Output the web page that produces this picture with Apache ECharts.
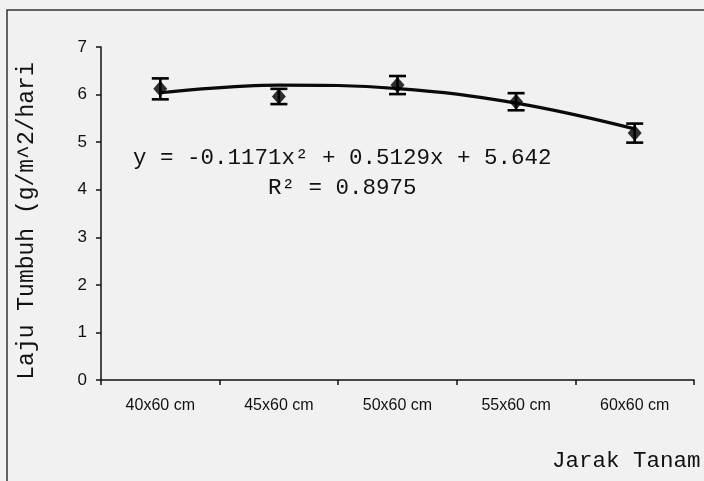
<!DOCTYPE html>
<html>
<head>
<meta charset="utf-8">
<script src="https://cdn.jsdelivr.net/npm/echarts@6/dist/echarts.min.js"></script>
<style>
  html, body { margin: 0; padding: 0; background: #f1f1f1; }
  #chart { width: 704px; height: 481px; }
</style>
</head>
<body>
<div id="chart"></div>
<script>
// Plant spacing treatments and measured growth rate (mean ± error)
const categories = ['40x60 cm', '45x60 cm', '50x60 cm', '55x60 cm', '60x60 cm'];
const rateMeans = [6.12, 5.96, 6.20, 5.85, 5.19];
const rateErrors = [0.22, 0.16, 0.19, 0.18, 0.20];
// Quadratic trend: y = a x^2 + b x + c, x = treatment index (1..5)
const trendCoefficients = [-0.1171, 0.5129, 5.642];
const rSquared = '0.8975';
const yTicks = [0, 1, 2, 3, 4, 5, 6, 7];

const trendValues = categories.map((_, i) => {
  const x = i + 1;
  const [a, b, c] = trendCoefficients;
  return +(a * x * x + b * x + c).toFixed(4);
});

const mono = '"Liberation Mono", "Courier New", monospace';
const sans = '"Liberation Sans", Arial, sans-serif';
const ink = '#111';

const chart = echarts.init(document.getElementById('chart'), null, { renderer: 'canvas' });

chart.setOption({
  backgroundColor: '#f1f1f1',
  animation: false,
  grid: { left: 101, right: 10, top: 47, bottom: 101 },
  xAxis: {
    type: 'category',
    data: categories,
    boundaryGap: true,
    axisLine: { lineStyle: { color: ink, width: 1.5 } },
    axisTick: { show: true, length: 5, lineStyle: { color: ink, width: 1.5 } },
    axisLabel: { color: ink, fontFamily: sans, fontSize: 16, margin: 18 }
  },
  yAxis: {
    type: 'value',
    min: yTicks[0],
    max: yTicks[yTicks.length - 1],
    interval: 1,
    splitLine: { show: false },
    axisLine: { show: true, lineStyle: { color: ink, width: 1.5 } },
    axisTick: { show: true, length: 5, lineStyle: { color: ink, width: 1.5 } },
    axisLabel: { color: ink, fontFamily: sans, fontSize: 17, margin: 14 }
  },
  series: [
    {
      name: 'trend',
      type: 'line',
      data: trendValues,
      smooth: 0.4,
      symbol: 'none',
      lineStyle: { color: '#0a0a0a', width: 3.2 },
      z: 3
    },
    {
      name: 'error',
      type: 'custom',
      data: categories.map((_, i) => [i, rateMeans[i] - rateErrors[i], rateMeans[i] + rateErrors[i]]),
      renderItem: function (params, api) {
        const lo = api.coord([api.value(0), api.value(1)]);
        const hi = api.coord([api.value(0), api.value(2)]);
        const half = 8.5;
        const style = { stroke: '#000', lineWidth: 2.6 };
        return {
          type: 'group',
          children: [
            { type: 'line', shape: { x1: lo[0], y1: lo[1], x2: hi[0], y2: hi[1] }, style: style },
            { type: 'line', shape: { x1: lo[0] - half, y1: lo[1], x2: lo[0] + half, y2: lo[1] }, style: style },
            { type: 'line', shape: { x1: hi[0] - half, y1: hi[1], x2: hi[0] + half, y2: hi[1] }, style: style }
          ]
        };
      },
      z: 4
    },
    {
      name: 'mean',
      type: 'scatter',
      data: rateMeans,
      symbol: 'diamond',
      symbolSize: [14, 16],
      itemStyle: { color: '#000' },
      z: 5
    }
  ],
  graphic: [
    {
      type: 'rect',
      shape: { x: 7, y: 10, width: 720, height: 500 },
      style: { fill: 'none', stroke: '#333', lineWidth: 1.5 },
      silent: true
    },
    {
      type: 'text',
      x: 27,
      y: 221,
      rotation: Math.PI / 2,
      style: {
        text: 'Laju Tumbuh (g/m^2/hari',
        font: '23px ' + mono,
        fill: ink,
        align: 'center',
        verticalAlign: 'middle'
      }
    },
    {
      type: 'text',
      left: 133,
      top: 147,
      style: {
        text: 'y = -0.1171x² + 0.5129x + 5.642',
        font: '22.5px ' + mono,
        fill: ink
      }
    },
    {
      type: 'text',
      left: 268,
      top: 177,
      style: {
        text: 'R² = ' + rSquared,
        font: '22.5px ' + mono,
        fill: ink
      }
    },
    {
      type: 'text',
      left: 552,
      top: 450,
      style: {
        text: 'Jarak Tanam',
        font: '22.5px ' + mono,
        fill: ink
      }
    }
  ]
});
</script>
</body>
</html>
